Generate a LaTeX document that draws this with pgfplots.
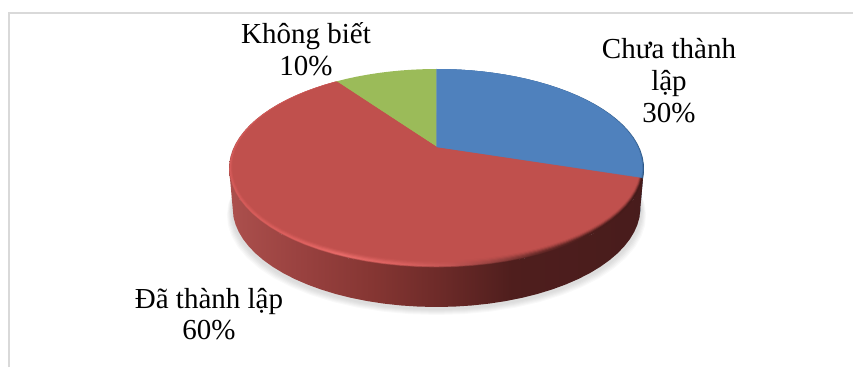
\documentclass[border=0pt]{standalone}
\usepackage{fontspec}
\setmainfont{Liberation Serif}
\usepackage{pgfplots}
\usepackage{pgfplotstable}
\pgfplotsset{compat=1.18}

% Slice boundaries in degrees, clockwise from the top: 30% = 108, 60% = 216, 10% = 36.
\pgfplotstableread[row sep=\\]{
r deg\\ 0 0\\ 1 0\\ 1 4\\ 1 8\\ 1 12\\ 1 16\\ 1 20\\ 1 24\\ 1 28\\ 1 32\\ 1 36\\ 1 40\\ 1 44\\ 1 48\\ 1 52\\ 1 56\\ 1 60\\ 1 64\\ 1 68\\ 1 72\\ 1 76\\ 1 80\\ 1 84\\ 1 88\\ 1 92\\ 1 96\\ 1 100\\ 1 104\\ 1 108\\
}\sliceChua
\pgfplotstableread[row sep=\\]{
r deg\\ 0 108\\ 1 108\\ 1 112\\ 1 116\\ 1 120\\ 1 124\\ 1 128\\ 1 132\\ 1 136\\ 1 140\\ 1 144\\ 1 148\\ 1 152\\ 1 156\\ 1 160\\ 1 164\\ 1 168\\ 1 172\\ 1 176\\ 1 180\\ 1 184\\ 1 188\\ 1 192\\ 1 196\\ 1 200\\ 1 204\\ 1 208\\ 1 212\\ 1 216\\ 1 220\\ 1 224\\ 1 228\\ 1 232\\ 1 236\\ 1 240\\ 1 244\\ 1 248\\ 1 252\\ 1 256\\ 1 260\\ 1 264\\ 1 268\\ 1 272\\ 1 276\\ 1 280\\ 1 284\\ 1 288\\ 1 292\\ 1 296\\ 1 300\\ 1 304\\ 1 308\\ 1 312\\ 1 316\\ 1 320\\ 1 324\\
}\sliceDa
\pgfplotstableread[row sep=\\]{
r deg\\ 0 324\\ 1 324\\ 1 328\\ 1 332\\ 1 336\\ 1 340\\ 1 344\\ 1 348\\ 1 352\\ 1 356\\ 1 360\\
}\sliceKhong
% Full outline of the disc, used for the cast shadow.
\pgfplotstableread[row sep=\\]{
r deg\\ 1 0\\ 1 6\\ 1 12\\ 1 18\\ 1 24\\ 1 30\\ 1 36\\ 1 42\\ 1 48\\ 1 54\\ 1 60\\ 1 66\\ 1 72\\ 1 78\\ 1 84\\ 1 90\\ 1 96\\ 1 102\\ 1 108\\ 1 114\\ 1 120\\ 1 126\\ 1 132\\ 1 138\\ 1 144\\ 1 150\\ 1 156\\ 1 162\\ 1 168\\ 1 174\\ 1 180\\ 1 186\\ 1 192\\ 1 198\\ 1 204\\ 1 210\\ 1 216\\ 1 222\\ 1 228\\ 1 234\\ 1 240\\ 1 246\\ 1 252\\ 1 258\\ 1 264\\ 1 270\\ 1 276\\ 1 282\\ 1 288\\ 1 294\\ 1 300\\ 1 306\\ 1 312\\ 1 318\\ 1 324\\ 1 330\\ 1 336\\ 1 342\\ 1 348\\ 1 354\\
}\discOutline
% Cylinder wall: h = 1 lower edge, h = 0 upper edge.
\pgfplotstableread[row sep=\\]{
deg h\\ 108 1\\ 112 1\\ 116 1\\ 120 1\\ 124 1\\ 128 1\\ 132 1\\ 136 1\\ 140 1\\ 144 1\\ 148 1\\ 152 1\\ 156 1\\ 160 1\\ 164 1\\ 168 1\\ 172 1\\ 176 1\\ 180 1\\ 184 1\\ 188 1\\ 192 1\\ 196 1\\ 200 1\\ 204 1\\ 208 1\\ 212 1\\ 216 1\\ 220 1\\ 224 1\\ 228 1\\ 232 1\\ 236 1\\ 240 1\\ 244 1\\ 248 1\\ 252 1\\ 258 1\\ 258 0\\ 252 0\\ 240 0\\ 220 0\\ 200 0\\ 180 0\\ 160 0\\ 140 0\\ 120 0\\ 108 0\\
}\wallDa
\pgfplotstableread[row sep=\\]{
deg h\\ 100 1\\ 104 1\\ 108 1\\ 108 0\\ 104 0\\ 100 0\\
}\wallChua

\definecolor{faceBlue}{HTML}{4F81BD}
\definecolor{faceRed}{HTML}{C0504D}
\definecolor{faceGreen}{HTML}{9BBB59}
\definecolor{rimBlue}{HTML}{2B5684}
\definecolor{frameGray}{HTML}{D9D9D9}

% Horizontal light falloff: stops between 25bp and 75bp span the shape's width.
\pgfdeclarehorizontalshading{wallRed}{100bp}{
  color(0bp)=(rgb,255:red,172;green,80;blue,77);
  color(25bp)=(rgb,255:red,172;green,80;blue,77);
  color(33.3bp)=(rgb,255:red,154;green,66;blue,64);
  color(42.8bp)=(rgb,255:red,132;green,53;blue,50);
  color(50.1bp)=(rgb,255:red,110;green,43;blue,41);
  color(59.1bp)=(rgb,255:red,79;green,30;blue,29);
  color(75bp)=(rgb,255:red,72;green,28;blue,28);
  color(100bp)=(rgb,255:red,72;green,28;blue,28)}
\pgfdeclarehorizontalshading{rimRed}{100bp}{
  color(0bp)=(rgb,255:red,214;green,92;blue,90);
  color(25bp)=(rgb,255:red,214;green,92;blue,90);
  color(33.5bp)=(rgb,255:red,224;green,98;blue,96);
  color(38.4bp)=(rgb,255:red,234;green,108;blue,106);
  color(45.6bp)=(rgb,255:red,220;green,98;blue,96);
  color(51.6bp)=(rgb,255:red,196;green,86;blue,84);
  color(57.6bp)=(rgb,255:red,146;green,64;blue,62);
  color(62.5bp)=(rgb,255:red,104;green,42;blue,40);
  color(68.5bp)=(rgb,255:red,76;green,29;blue,28);
  color(75bp)=(rgb,255:red,68;green,26;blue,25);
  color(100bp)=(rgb,255:red,68;green,26;blue,25)}

% Vertical position of a point of the unit disc under the perspective view.
\pgfmathdeclarefunction{discY}{1}{\pgfmathparse{(147-63.1*#1)/(1+0.216*#1)}}

% Perspective view of the unit disc; #3, #4 pull the front edge inwards, #5 moves it down.
\newcommand{\discpatch}[5]{%
  \addplot[draw=none,mark=none,#1] table[
    x expr={436.5+#3*202.6*\thisrow{r}*sin(\thisrow{deg})/(1+0.216*\thisrow{r}*cos(\thisrow{deg}))},
    y expr={discY(\thisrow{r}*cos(\thisrow{deg}))
      +(#4-1)*\thisrow{r}*(discY(\thisrow{r}*cos(\thisrow{deg}))-69)*(discY(\thisrow{r}*cos(\thisrow{deg}))-69)/199+#5}
  ] {#2};}
% Cylinder wall between the upper and the lower edge.
\newcommand{\wallpatch}[2]{%
  \addplot[draw=none,mark=none,#1] table[
    x expr={436.5+(1-0.017*\thisrow{h})*202.6*sin(\thisrow{deg})/(1+0.216*cos(\thisrow{deg}))},
    y expr={discY(cos(\thisrow{deg}))+39*\thisrow{h}}
  ] {#2};}

\begin{document}
\begin{tikzpicture}
\begin{axis}[
  hide axis, scale only axis,
  width=853pt, height=367pt,
  xmin=0, xmax=853, ymin=0, ymax=367,
  y dir=reverse,
]
  % Panel frame: top and left edges only
  \draw[frameGray,line width=2pt] (axis cs:9,367) -- (axis cs:9,13) -- (axis cs:853,13);

  % Soft cast shadow
  \discpatch{fill=black,opacity=0.025}{\discOutline}{1.010}{1}{47}
  \discpatch{fill=black,opacity=0.025}{\discOutline}{1.006}{1}{46}
  \discpatch{fill=black,opacity=0.025}{\discOutline}{1.002}{1}{45}
  \discpatch{fill=black,opacity=0.025}{\discOutline}{0.998}{1}{44}
  \discpatch{fill=black,opacity=0.025}{\discOutline}{0.994}{1}{43}
  \discpatch{fill=black,opacity=0.025}{\discOutline}{0.990}{1}{42}

  % Cylinder wall
  \wallpatch{fill=rimBlue!70!black}{\wallChua}
  \wallpatch{shade,shading=wallRed}{\wallDa}

  % Bevel: wall tone at the very edge, highlight, then fading into the flat face
  \discpatch{shade,shading=wallRed}{\sliceDa}{1}{1}{0}
  \discpatch{fill=rimBlue}{\sliceChua}{1}{1}{0}
  \discpatch{fill=faceGreen}{\sliceKhong}{1}{1}{0}
  \discpatch{shade,shading=rimRed,opacity=0.4}{\sliceDa}{0.9985}{0.997}{0}
  \discpatch{shade,shading=rimRed,opacity=0.7}{\sliceDa}{0.997}{0.994}{0}
  \discpatch{shade,shading=rimRed}{\sliceDa}{0.9955}{0.991}{0}
  \discpatch{fill=faceRed,opacity=0.2}{\sliceDa}{0.993}{0.986}{0}
  \discpatch{fill=faceRed,opacity=0.35}{\sliceDa}{0.990}{0.980}{0}
  \discpatch{fill=faceRed,opacity=0.5}{\sliceDa}{0.987}{0.974}{0}
  \discpatch{fill=faceRed,opacity=0.7}{\sliceDa}{0.984}{0.968}{0}
  \discpatch{fill=faceRed}{\sliceDa}{0.981}{0.962}{0}
  \discpatch{fill=faceBlue,opacity=0.5}{\sliceChua}{0.997}{0.994}{0}
  \discpatch{fill=faceBlue,opacity=0.6}{\sliceChua}{0.994}{0.988}{0}
  \discpatch{fill=faceBlue}{\sliceChua}{0.991}{0.982}{0}

  % Category labels
  \node[align=center,font=\fontsize{29}{32.5}\selectfont] at (axis cs:306,49) {Không biết\\10\%};
  \node[align=center,font=\fontsize{29}{32}\selectfont] at (axis cs:669,81) {Chưa thành\\lập\\30\%};
  \node[align=center,font=\fontsize{29}{30.5}\selectfont] at (axis cs:209,314) {Đã thành lập\\60\%};
\end{axis}
  % The page spans the whole plotting area
  \path (0,0) rectangle (853pt,367pt);
\end{tikzpicture}
\end{document}
